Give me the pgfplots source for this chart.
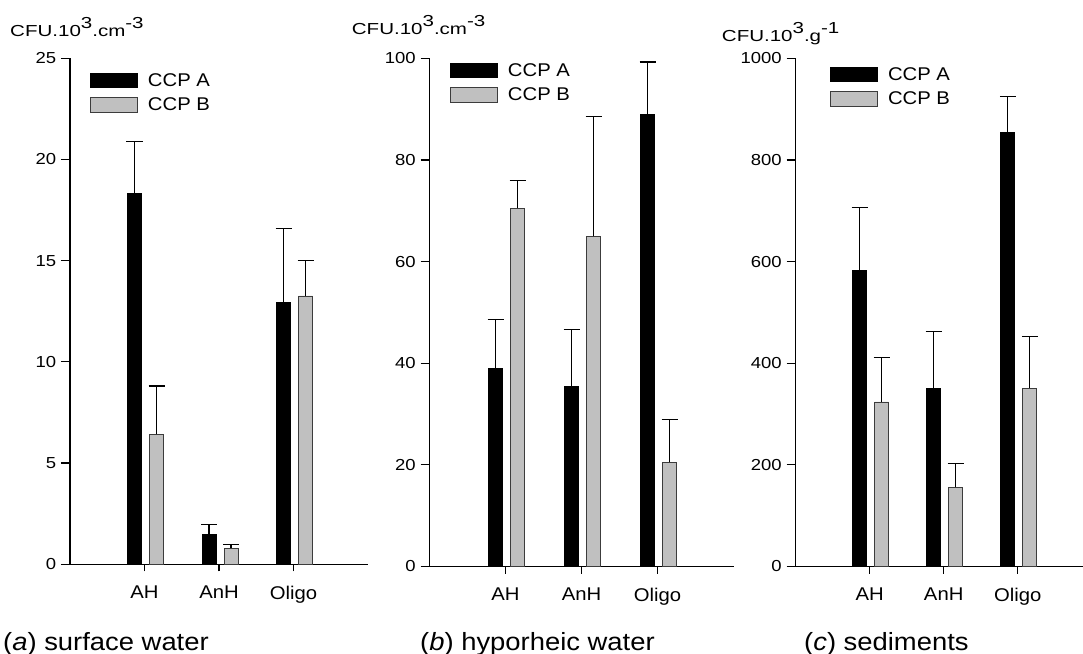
\documentclass[border=0pt]{standalone}
\usepackage{fontspec}
\setmainfont{Liberation Sans}[FakeStretch=1.1]
\newfontfamily\widefont{Liberation Sans}[FakeStretch=1.16]
\usepackage{pgfplots}
\pgfplotsset{compat=1.18}
\definecolor{ccpB}{RGB}{192,192,192}
\definecolor{edgeB}{RGB}{60,60,60}

\pgfplotsset{
  panel/.style={
    scale only axis, anchor=south west,
    axis x line=bottom, axis y line=left,
    axis line style={-, line width=1.2bp},
    xmin=-1, xmax=3, ymin=0,
    xtick={0,1,2}, xticklabels={AH,AnH,Oligo},
    tick align=outside,
    every tick/.style={black, line width=1.2bp},
    xtick style={/pgfplots/major tick length=7bp},
    ytick style={/pgfplots/major tick length=9bp},
    x tick label style={font=\fontsize{18.5}{20}\selectfont, yshift=-14bp},
    y tick label style={font=\widefont\fontsize{16}{18}\selectfont, xshift=-6bp},
    /pgf/number format/assume math mode=true,
    /pgf/number format/1000 sep={},
    legend style={draw=none, fill=none, inner sep=0pt, anchor=north west,
      at={(0,1)}, font=\fontsize{18.5}{20}\selectfont, row sep=6bp},
    legend cell align=left,
    legend image code/.code={\draw[##1] (0bp,-7.3bp) rectangle (47bp,7.3bp);
      \path (55bp,0bp);},
    clip=false,
  },
  ccpA/.style={ybar, bar width=14bp, bar shift=-10bp, fill=black, draw=black, line width=0.8bp,
    error bars/.cd, y dir=plus, y explicit,
    error bar style={line width=1.1bp, black, xshift=-10bp},
    error mark options={rotate=90, mark size=8bp, line width=1.1bp, black}},
  ccpB/.style={ybar, bar width=14bp, bar shift=12bp, fill=ccpB, draw=edgeB, line width=0.8bp,
    error bars/.cd, y dir=plus, y explicit,
    error bar style={line width=1.1bp, black, xshift=12bp},
    error mark options={rotate=90, mark size=8bp, line width=1.1bp, black}},
}

\begin{document}
\begin{tikzpicture}
\path[use as bounding box] (0,0) rectangle (1083bp,654bp);

% (a) surface water
\begin{axis}[panel, at={(70bp,89.7bp)}, width=298bp, height=506bp,
  ymax=25, ytick={0,5,10,15,20,25},
  legend style={xshift=20bp, yshift=-12.7bp}]
\addplot[ccpA] coordinates {(0,18.33) +- (0,2.55) (1,1.48) +- (0,0.48) (2,12.94) +- (0,3.64)};
\addplot[ccpB] coordinates {(0,6.42) +- (0,2.39) (1,0.79) +- (0,0.18) (2,13.26) +- (0,1.77)};
\legend{CCP A, CCP B}
\end{axis}

% (b) hyporheic water
\begin{axis}[panel, at={(429.5bp,87.5bp)}, width=304bp, height=508bp,
  ymax=100, ytick={0,20,40,60,80,100},
  legend style={xshift=20.5bp, yshift=-2.7bp}]
\addplot[ccpA] coordinates {(0,39.0) +- (0,9.6) (1,35.5) +- (0,11.2) (2,89.0) +- (0,10.3)};
\addplot[ccpB] coordinates {(0,70.5) +- (0,5.5) (1,65.0) +- (0,23.6) (2,20.5) +- (0,8.4)};
\legend{CCP A, CCP B}
\end{axis}

% (c) sediments
\begin{axis}[panel, at={(795.5bp,87.5bp)}, width=287.5bp, height=508bp,
  xmax=2.88, ymax=1000, ytick={0,200,400,600,800,1000},
  legend style={xshift=34.5bp, yshift=-6.7bp}]
\addplot[ccpA] coordinates {(0,583) +- (0,123) (1,351) +- (0,112) (2,855) +- (0,70)};
\addplot[ccpB] coordinates {(0,324) +- (0,88) (1,156) +- (0,47) (2,351) +- (0,101)};
\legend{CCP A, CCP B}
\end{axis}

% unit labels
\begin{scope}[every node/.style={anchor=base west, inner sep=0pt, xscale=1.17, font=\fontsize{16}{18}\selectfont}]
\node at (10bp,617.3bp) {CFU.10\raisebox{8bp}{3}.cm\raisebox{8bp}{-3}};
\node at (351.7bp,619bp) {CFU.10\raisebox{8bp}{3}.cm\raisebox{8bp}{-3}};
\node at (721.7bp,612.3bp) {CFU.10\raisebox{8bp}{3}.g\raisebox{8bp}{-1}};
\end{scope}

% panel titles
\begin{scope}[every node/.style={anchor=base west, inner sep=0pt, font=\fontsize{25}{28}\selectfont}]
\node at (3bp,4bp) {(\textit{a}) surface water};
\node at (420bp,4bp) {(\textit{b}) hyporheic water};
\node at (804bp,4bp) {(\textit{c}) sediments};
\end{scope}
\end{tikzpicture}
\end{document}
